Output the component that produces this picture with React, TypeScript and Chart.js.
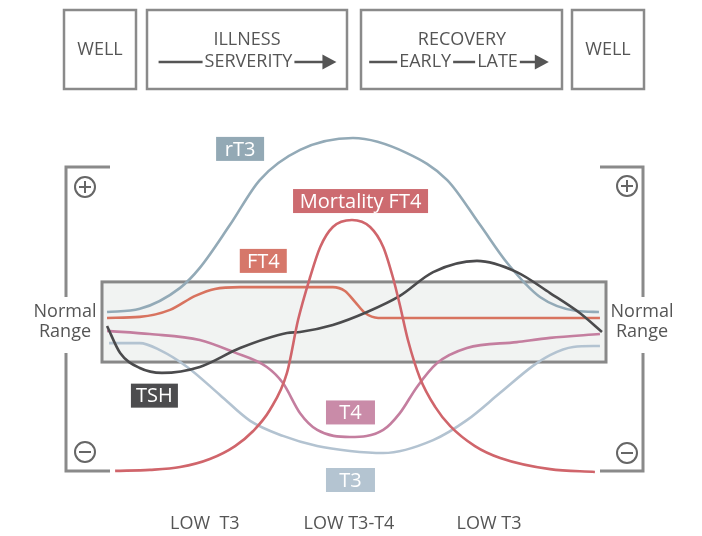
import React, { useEffect, useRef } from "react";
import { Chart, registerables } from "chart.js";

Chart.register(...registerables);

type Pt = [number, number];

// ---- data (time 0..100 across the normal-range band, level 0..100) ----
const PHASES: string[] = ["LOW  T3", "LOW T3-T4", "LOW T3"];
const PHASE_TIME: number[] = [20.4, 49.0, 76.8];

const NORMAL_LOW = 33.7;
const NORMAL_HIGH = 56.6;

const RT3: Pt[] = [
  [1.0, 48.0], [7.5, 48.9], [15.5, 54.9], [19.4, 60.6], [25.4, 72.9], [31.3, 85.7],
  [39.3, 94.3], [49.8, 97.7], [60.5, 93.4], [68.5, 85.7], [75.0, 72.9], [80.4, 62.0],
  [86.9, 52.3], [94.2, 48.3], [98.6, 48.0],
];
const FT4: Pt[] = [
  [1.0, 46.3], [7.5, 46.6], [13.5, 48.6], [18.5, 52.6], [22.4, 54.6], [27.4, 55.1],
  [39.3, 55.1], [45.8, 55.1], [48.2, 54.0], [50.2, 50.9], [52.2, 47.7], [54.8, 46.3],
  [69.0, 46.3], [98.8, 46.3],
];
const MORTALITY_FT4: Pt[] = [
  [2.6, 2.6], [9.5, 2.9], [15.5, 3.7], [21.4, 6.0], [26.4, 9.7], [30.0, 14.0],
  [33.3, 20.0], [36.7, 30.6], [38.9, 45.7], [41.3, 58.0], [43.3, 66.6], [45.8, 72.3],
  [49.6, 74.3], [53.2, 72.3], [55.8, 66.6], [57.7, 58.0], [59.1, 50.0], [60.7, 40.0],
  [63.1, 29.1], [66.1, 20.9], [69.1, 15.4], [74.0, 9.7], [79.0, 6.3], [88.9, 3.1],
  [97.8, 2.3],
];
const TSH: Pt[] = [
  [1.0, 44.0], [3.6, 36.3], [7.5, 32.0], [11.9, 30.6], [19.4, 32.3], [27.4, 37.7],
  [36.7, 42.0], [39.3, 42.3], [45.8, 44.3], [52.6, 48.0], [59.1, 52.6], [65.7, 59.4],
  [74.4, 62.6], [82.3, 59.4], [88.9, 53.4], [94.8, 47.7], [99.2, 42.3],
];
const T4: Pt[] = [
  [1.0, 42.6], [9.5, 41.7], [19.4, 40.0], [26.0, 36.6], [32.7, 32.3], [35.9, 27.7],
  [39.3, 19.1], [42.7, 14.3], [49.2, 12.3], [55.8, 14.3], [59.1, 19.1], [62.5, 26.6],
  [66.5, 33.4], [72.4, 37.7], [82.3, 39.4], [88.9, 40.6], [98.8, 41.7],
];
const T3: Pt[] = [
  [1.4, 39.1], [7.5, 39.1], [11.5, 37.1], [16.9, 32.3], [23.4, 24.3], [29.4, 16.9],
  [35.9, 12.6], [42.7, 9.7], [49.2, 8.3], [55.8, 7.7], [65.7, 11.4], [72.4, 17.1],
  [79.0, 24.9], [85.5, 32.6], [88.9, 35.7], [93.5, 38.0], [98.8, 38.3],
];

// ---- styles / layout ----
const FONT = '"Open Sans", "DejaVu Sans", sans-serif';
const TEXT = "#555555";
const FRAME = "#8a8a8a";

const SERIES = [
  { name: "rT3", data: RT3, color: "#93aab7", label: "#93a9b5", pos: [27.4, 94.6], w: 48, order: 6 },
  { name: "FT4", data: FT4, color: "#d8735f", label: "#d6776a", pos: [32.0, 62.6], w: 47, order: 5 },
  { name: "Mortality FT4", data: MORTALITY_FT4, color: "#d0656b", label: "#cd6b70", pos: [51.3, 79.7], w: 135, order: 1 },
  { name: "TSH", data: TSH, color: "#4b4b4d", label: "#4c4c4e", pos: [10.4, 24.1], w: 47, order: 2 },
  { name: "T4", data: T4, color: "#c47e9f", label: "#c98ba8", pos: [49.3, 19.3], w: 49, order: 3 },
  { name: "T3", data: T3, color: "#b3c3d1", label: "#b4c4d1", pos: [49.3, 0.0], w: 49, order: 4 },
];

type RowItem = { t?: string; len?: number; arrow?: boolean };

function drawRow(ctx: CanvasRenderingContext2D, items: RowItem[], cx: number, y: number) {
  ctx.font = `18px ${FONT}`;
  const widths = items.map((it) => (it.t ? ctx.measureText(it.t).width + 4 : it.len || 0));
  const total = widths.reduce((a, b) => a + b, 0);
  let x = cx - total / 2;
  ctx.strokeStyle = TEXT;
  ctx.fillStyle = TEXT;
  ctx.lineWidth = 2.5;
  items.forEach((it, i) => {
    const w = widths[i];
    if (it.t) {
      ctx.textAlign = "left";
      ctx.textBaseline = "middle";
      ctx.fillText(it.t, x + 2, y);
    } else if (it.arrow) {
      const head = 14;
      ctx.beginPath();
      ctx.moveTo(x, y);
      ctx.lineTo(x + w - head + 1, y);
      ctx.stroke();
      ctx.beginPath();
      ctx.moveTo(x + w - head, y - 7.5);
      ctx.lineTo(x + w, y);
      ctx.lineTo(x + w - head, y + 7.5);
      ctx.closePath();
      ctx.fill();
    } else {
      ctx.beginPath();
      ctx.moveTo(x, y);
      ctx.lineTo(x + w, y);
      ctx.stroke();
    }
    x += w;
  });
}

function circleSign(ctx: CanvasRenderingContext2D, x: number, y: number, plus: boolean) {
  ctx.strokeStyle = "#666666";
  ctx.lineWidth = 2;
  ctx.beginPath();
  ctx.arc(x, y, 10, 0, Math.PI * 2);
  ctx.stroke();
  ctx.beginPath();
  ctx.moveTo(x - 6, y);
  ctx.lineTo(x + 6, y);
  if (plus) {
    ctx.moveTo(x, y - 6);
    ctx.lineTo(x, y + 6);
  }
  ctx.stroke();
}

const decorPlugin = {
  id: "decor",
  beforeDatasetsDraw(chart: any) {
    const ctx: CanvasRenderingContext2D = chart.ctx;
    const xs = chart.scales.x;
    const ys = chart.scales.y;
    ctx.save();

    // header boxes
    const boxes: [number, number][] = [[64, 136], [147, 347], [361, 562], [572, 644]];
    ctx.strokeStyle = FRAME;
    ctx.lineWidth = 2.5;
    boxes.forEach(([a, b]) => ctx.strokeRect(a, 10, b - a, 79));
    ctx.fillStyle = TEXT;
    ctx.font = `18px ${FONT}`;
    ctx.textAlign = "center";
    ctx.textBaseline = "middle";
    ctx.fillText("WELL", 100, 50);
    ctx.fillText("WELL", 608, 50);
    ctx.fillText("ILLNESS", 247, 40);
    ctx.fillText("RECOVERY", 462, 40);
    drawRow(ctx, [{ len: 44 }, { t: "SERVERITY" }, { len: 42, arrow: true }], 247.5, 62);
    drawRow(ctx, [{ len: 28 }, { t: "EARLY" }, { len: 22 }, { t: "LATE" }, { len: 29, arrow: true }], 459, 62);

    // side brackets
    ctx.strokeStyle = FRAME;
    ctx.lineWidth = 3;
    ctx.beginPath();
    ctx.moveTo(110, 167); ctx.lineTo(66, 167); ctx.lineTo(66, 297);
    ctx.moveTo(66, 353); ctx.lineTo(66, 471); ctx.lineTo(110, 471);
    ctx.moveTo(600, 167); ctx.lineTo(643, 167); ctx.lineTo(643, 297);
    ctx.moveTo(643, 353); ctx.lineTo(643, 471); ctx.lineTo(600, 471);
    ctx.stroke();
    circleSign(ctx, 85, 187, true);
    circleSign(ctx, 627, 186, true);
    circleSign(ctx, 85, 452, false);
    circleSign(ctx, 627, 453, false);

    ctx.fillStyle = TEXT;
    ctx.font = `18px ${FONT}`;
    ctx.textAlign = "center";
    ctx.textBaseline = "middle";
    ctx.fillText("Normal", 65, 312);
    ctx.fillText("Range", 65, 332);
    ctx.fillText("Normal", 642, 312);
    ctx.fillText("Range", 642, 332);

    // normal range band
    const l = xs.getPixelForValue(0);
    const r = xs.getPixelForValue(100);
    const t = ys.getPixelForValue(NORMAL_HIGH);
    const b = ys.getPixelForValue(NORMAL_LOW);
    ctx.fillStyle = "#f1f3f2";
    ctx.fillRect(l, t, r - l, b - t);
    ctx.strokeStyle = "#888888";
    ctx.lineWidth = 3;
    ctx.strokeRect(l, t, r - l, b - t);
    ctx.restore();
  },
  afterDatasetsDraw(chart: any) {
    const ctx: CanvasRenderingContext2D = chart.ctx;
    const xs = chart.scales.x;
    const ys = chart.scales.y;
    ctx.save();
    SERIES.forEach((s) => {
      const cx = xs.getPixelForValue(s.pos[0]);
      const cy = ys.getPixelForValue(s.pos[1]);
      ctx.fillStyle = s.label;
      ctx.fillRect(cx - s.w / 2, cy - 12, s.w, 24);
      ctx.fillStyle = "#ffffff";
      ctx.font = `20px ${FONT}`;
      ctx.textAlign = "center";
      ctx.textBaseline = "middle";
      ctx.fillText(s.name, cx, cy + 1);
    });
    ctx.fillStyle = TEXT;
    ctx.font = `18px ${FONT}`;
    ctx.textAlign = "center";
    ctx.textBaseline = "middle";
    PHASES.forEach((p, i) => {
      ctx.fillText(p, xs.getPixelForValue(PHASE_TIME[i]), 524);
    });
    ctx.restore();
  },
};

export default function App() {
  const ref = useRef<HTMLCanvasElement | null>(null);
  useEffect(() => {
    if (!ref.current) return;
    const chart = new Chart(ref.current, {
      type: "scatter",
      data: {
        datasets: SERIES.map((s) => ({
          label: s.name,
          data: s.data.map(([x, y]) => ({ x, y })),
          showLine: true,
          borderColor: s.color,
          backgroundColor: s.color,
          borderWidth: 2.6,
          pointRadius: 0,
          cubicInterpolationMode: "monotone" as const,
          clip: false as any,
          order: s.order,
        })),
      },
      options: {
        responsive: false,
        animation: false,
        layout: { padding: { left: 102, right: 96, top: 130, bottom: 56 } },
        plugins: { legend: { display: false }, tooltip: { enabled: false } },
        scales: {
          x: { type: "linear", min: 0, max: 100, display: false },
          y: { type: "linear", min: 0, max: 100, display: false },
        },
      },
      plugins: [decorPlugin],
    });
    return () => chart.destroy();
  }, []);
  return (
    <div style={{ position: "absolute", left: 0, top: 0, width: 702, height: 536, background: "#fff" }}>
      <canvas ref={ref} width={702} height={536} style={{ display: "block" }} />
    </div>
  );
}
